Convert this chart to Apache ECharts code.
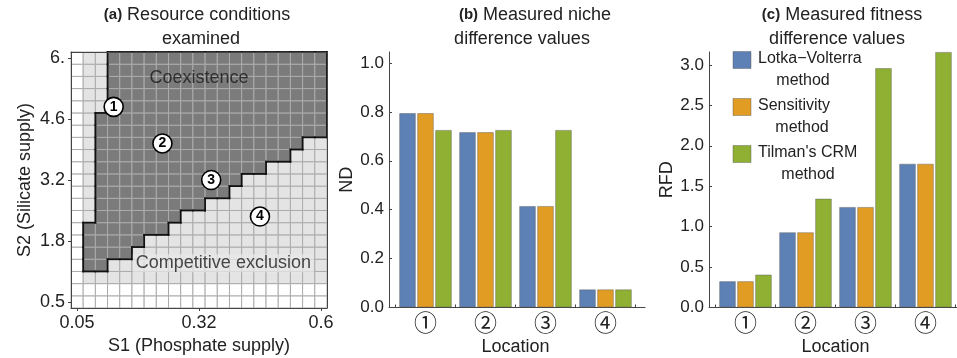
<!DOCTYPE html>
<html><head><meta charset="utf-8">
<script src="https://cdn.jsdelivr.net/npm/echarts@6/dist/echarts.min.js"></script>
<style>html,body{margin:0;padding:0;background:#fff}#c{width:957px;height:358px}</style>
</head><body><div id="c"></div>
<script>
// ---------- Panel (a): resource grid ----------
const s1Categories = ['0.05','0.0775','0.105','0.1325','0.16','0.1875','0.215','0.2425','0.27','0.2975','0.325','0.3525','0.38','0.4075','0.435','0.4625','0.49','0.5175','0.545','0.5725','0.6'];
const s2Categories = ['0.5','0.775','1.05','1.325','1.6','1.875','2.15','2.425','2.7','2.975','3.25','3.525','3.8','4.075','4.35','4.625','4.9','5.175','5.45','5.725','6.0'];
const s1TickLabels = {0:'0.05', 10:'0.32', 20:'0.6'};
const s2TickLabels = {0:'0.5', 5:'1.8', 10:'3.2', 15:'4.6', 20:'6.'};
const firstGrowthCol = 1;
const firstGrowthRow = 2;
const coexBottomRow = [null,3,3,4,4,5,6,6,7,8,8,9,9,10,11,11,12,12,13,14,14];
const coexTopRow    = [null,6,15,20,20,20,20,20,20,20,20,20,20,20,20,20,20,20,20,20,20];
const locationCol = [3,7,11,15];
const locationRow = [16,13,10,7];
const regionLabels = ['Coexistence','Competitive exclusion'];
const regionLabelCell = [[10,18],[12,3]];

// ---------- Panels (b), (c): bar values ----------
const locations = ['①','②','③','④'];
const methods = ['Lotka−Volterra method','Sensitivity method',"Tilman's CRM method"];
const ndLV   = [0.795,0.717,0.415,0.074];
const ndSens = [0.795,0.717,0.415,0.074];
const ndCRM  = [0.726,0.726,0.726,0.074];
const rfdLV   = [0.325,0.930,1.243,1.778];
const rfdSens = [0.325,0.930,1.243,1.778];
const rfdCRM  = [0.407,1.346,2.960,3.160];
const colors = ['#5E81B5','#E19C24','#8FB032'];

const FONT = '"Liberation Sans", Arial, sans-serif';
const CIRC = '"Noto Sans CJK JP", "DejaVu Sans", sans-serif';
const TXT = '#222';
const AX = '#444';

function cellState(i,j){
  if (i < firstGrowthCol || j < firstGrowthRow) return 0;
  const lo = coexBottomRow[i], hi = coexTopRow[i];
  if (lo != null && j >= lo && j <= hi) return 2;
  return 1;
}
function isDark(i,j){
  if (i < 0 || j < 0 || i >= s1Categories.length || j >= s2Categories.length) return false;
  return cellState(i,j) === 2;
}
const cells = [], darkCells = [];
for (let i = 0; i < s1Categories.length; i++)
  for (let j = 0; j < s2Categories.length; j++) {
    const st = cellState(i,j);
    cells.push([i,j,st]);
    if (st === 2) darkCells.push([i,j]);
  }
const cellFill = ['#ffffff','#e4e4e4','#7b7b7b'];

const chart = echarts.init(document.getElementById('c'));

function valueLabel(step){
  return v => Math.abs(v/step - Math.round(v/step)) < 1e-6 ? v.toFixed(1) : '';
}

function barPanel(frameGrid, barGrid, name, max, step){
  return {
    xAxis: [
      {gridIndex: frameGrid, type:'value', min:0, max:1, axisLine:{show:true, onZero:false, lineStyle:{color:AX, width:1}}, axisTick:{show:false}, axisLabel:{show:false}, splitLine:{show:false}},
      {gridIndex: barGrid, type:'category', data: locations, axisLine:{show:false}, axisTick:{show:true, inside:true, length:3, lineStyle:{color:AX}},
       axisLabel:{fontFamily:CIRC, fontSize:23, color:TXT, margin:3},
       name:'Location', nameLocation:'middle', nameGap:31, nameTextStyle:{fontFamily:FONT, fontSize:18, color:TXT}}
    ],
    yAxis: [
      {gridIndex: frameGrid, type:'value', min:0, max:max, interval:step,
       axisLine:{show:true, lineStyle:{color:AX, width:1}}, axisTick:{show:true, inside:true, length:3, lineStyle:{color:AX}},
       axisLabel:{formatter:valueLabel(step), fontFamily:FONT, fontSize:17, color:TXT, margin:5, showMaxLabel:false},
       splitLine:{show:false}, name:name, nameLocation:'middle', nameGap:29, nameRotate:90,
       nameTextStyle:{fontFamily:FONT, fontSize:18, color:TXT}},
      {gridIndex: barGrid, type:'value', min:0, max:max, show:false, splitLine:{show:false}}
    ]
  };
}

const pb = barPanel(1,2,'ND',1.045,0.2);
const pc = barPanel(3,4,'RFD',3.16,0.5);

const xAxes = [
  {gridIndex:0, type:'category', data:s1Categories, z:10,
   axisLine:{show:true, lineStyle:{color:AX}},
   axisTick:{show:true, alignWithLabel:true, length:3, interval:(i)=> (i in s1TickLabels), lineStyle:{color:AX}},
   axisLabel:{interval:(i)=> (i in s1TickLabels), formatter:(v,i)=> s1TickLabels[i] || '', fontFamily:FONT, fontSize:18, color:TXT, margin:6},
   name:'S1 (Phosphate supply)', nameLocation:'middle', nameGap:27, nameTextStyle:{fontFamily:FONT, fontSize:18, color:TXT}},
  {gridIndex:0, type:'category', data:s1Categories, position:'top', z:10, axisLine:{show:true, lineStyle:{color:AX}}, axisTick:{show:false}, axisLabel:{show:false}},
  ...pb.xAxis, ...pc.xAxis
];
const yAxes = [
  {gridIndex:0, type:'category', data:s2Categories, z:10,
   axisLine:{show:true, lineStyle:{color:AX}},
   axisTick:{show:true, alignWithLabel:true, length:3, interval:(i)=> (i in s2TickLabels), lineStyle:{color:AX}},
   axisLabel:{interval:(i)=> (i in s2TickLabels), formatter:(v,i)=> s2TickLabels[i] || '', fontFamily:FONT, fontSize:18, color:TXT, margin:6},
   name:'S2 (Silicate supply)', nameLocation:'middle', nameGap:37, nameRotate:90, nameTextStyle:{fontFamily:FONT, fontSize:18, color:TXT}},
  {gridIndex:0, type:'category', data:s2Categories, position:'right', z:10, axisLine:{show:true, lineStyle:{color:AX}}, axisTick:{show:false}, axisLabel:{show:false}},
  ...pb.yAxis, ...pc.yAxis
];

function barSeries(vals, xi, yi){
  return vals.map((arr,k)=>({
    type:'bar', name:methods[k], xAxisIndex:xi, yAxisIndex:yi, data:arr,
    barWidth:16.5, barGap:'9%',
    itemStyle:{color:colors[k], borderColor:'rgba(90,90,90,0.55)', borderWidth:0.8},
    silent:true
  }));
}

const series = [
  {type:'custom', xAxisIndex:0, yAxisIndex:0, data:cells, z:2, silent:true,
   renderItem(params, api){
     const c = api.coord([api.value(0), api.value(1)]);
     const s = api.size([1,1]);
     return {type:'rect', shape:{x:c[0]-s[0]/2, y:c[1]-s[1]/2, width:s[0], height:s[1]},
       style:{fill:cellFill[api.value(2)], stroke:'#ababab', lineWidth:1}};
   }},
  {type:'custom', xAxisIndex:0, yAxisIndex:0, data:darkCells, z:3, silent:true,
   renderItem(params, api){
     const i = api.value(0), j = api.value(1);
     const c = api.coord([i,j]); const s = api.size([1,1]);
     const L = c[0]-s[0]/2, R = c[0]+s[0]/2, T = c[1]-s[1]/2, B = c[1]+s[1]/2;
     const st = {stroke:'#111', lineWidth:1.8, lineCap:'square'};
     const ch = [];
     if (!isDark(i,j+1)) ch.push({type:'line', shape:{x1:L,y1:T,x2:R,y2:T}, style:st});
     if (!isDark(i,j-1)) ch.push({type:'line', shape:{x1:L,y1:B,x2:R,y2:B}, style:st});
     if (!isDark(i-1,j)) ch.push({type:'line', shape:{x1:L,y1:T,x2:L,y2:B}, style:st});
     if (!isDark(i+1,j)) ch.push({type:'line', shape:{x1:R,y1:T,x2:R,y2:B}, style:st});
     return {type:'group', children:ch};
   }},
  {type:'scatter', xAxisIndex:0, yAxisIndex:0, z:5, silent:true,
   data: regionLabels.map((n,k)=>({name:n, value:regionLabelCell[k],
     label: k===0 ? {offset:[0,-4]} : {offset:[0,-2], backgroundColor:'rgba(232,232,232,0.92)', padding:[0,3]}})),
   symbolSize:0,
   label:{show:true, position:'inside', formatter:'{b}', fontFamily:FONT, fontSize:18, color:'#1a1a1a'}},
  {type:'scatter', xAxisIndex:0, yAxisIndex:0, z:6, silent:true,
   data: locationCol.map((c,k)=>[c, locationRow[k]]),
   symbol:'circle', symbolSize:19,
   itemStyle:{color:'#fff', borderColor:'#000', borderWidth:1.6, opacity:1},
   label:{show:true, position:'inside', formatter:(p)=> String(p.dataIndex+1), fontFamily:FONT, fontWeight:'bold', fontSize:14, color:'#000'}},
  ...barSeries([ndLV, ndSens, ndCRM], 3, 3),
  ...barSeries([rfdLV, rfdSens, rfdCRM], 5, 5)
];

function titleGraphic(cx, tag, line1, line2, cx2){
  return [
    {type:'text', x:cx, y:15, style:{text:'{b|'+tag+'} '+line1, align:'center', verticalAlign:'middle',
      fontFamily:FONT, fontSize:18, fill:TXT, rich:{b:{fontFamily:FONT, fontWeight:'bold', fontSize:15, fill:TXT}}}},
    {type:'text', x:cx2, y:39, style:{text:line2, align:'center', verticalAlign:'middle', fontFamily:FONT, fontSize:18, fill:TXT}}
  ];
}
const legendFirst = ['Lotka−Volterra','Sensitivity',"Tilman's CRM"];
const legendSecond = ['method','method','method'];
const legendY = [60,107,154];
const legendSecondX = [803,802,808];
const legendGraphics = [];
methods.forEach((m,k)=>{
  legendGraphics.push({type:'rect', shape:{x:733, y:legendY[k]-8.5, width:18, height:17}, style:{fill:colors[k], stroke:'rgba(90,90,90,0.55)', lineWidth:0.8}});
  legendGraphics.push({type:'text', x:758, y:legendY[k]-1, style:{text:legendFirst[k], align:'left', verticalAlign:'middle', fontFamily:FONT, fontSize:16, fill:TXT}});
  legendGraphics.push({type:'text', x:legendSecondX[k], y:legendY[k]+21, style:{text:legendSecond[k], align:'center', verticalAlign:'middle', fontFamily:FONT, fontSize:16, fill:TXT}});
});

const OB = {outerBoundsMode:'none', containLabel:false};
chart.setOption({
  animation:false,
  backgroundColor:'#fff',
  textStyle:{fontFamily:FONT},
  grid:[
    {left:71, top:52, width:256, height:256, ...OB},
    {left:389, top:52, width:256, height:255.5, ...OB},
    {left:395.5, top:52, width:240, height:255.5, ...OB},
    {left:709, top:52, width:256, height:255.5, ...OB},
    {left:715.5, top:52, width:240, height:255.5, ...OB}
  ],
  xAxis:xAxes,
  yAxis:yAxes,
  series:series,
  graphic:[
    ...titleGraphic(197,'(a)','Resource conditions','examined',201),
    ...titleGraphic(535,'(b)','Measured niche','difference values',522),
    ...titleGraphic(842,'(c)','Measured fitness','difference values',837),
    ...legendGraphics
  ]
});
</script></body></html>
